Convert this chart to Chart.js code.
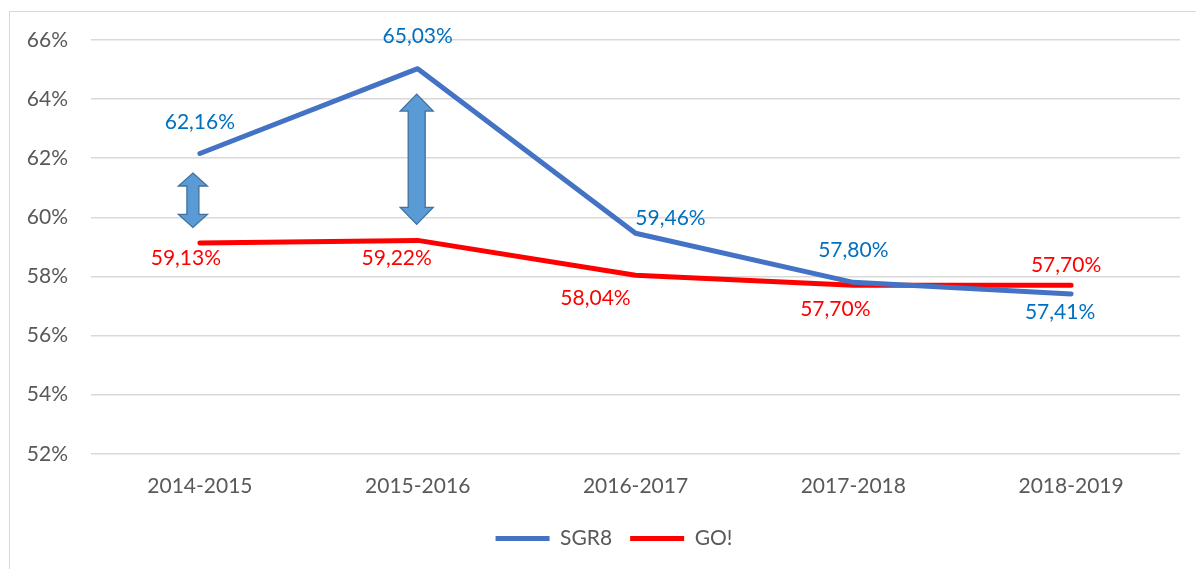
<!DOCTYPE html>
<html><head><meta charset="utf-8">
<script src="https://cdn.jsdelivr.net/npm/chart.js@4.4.1/dist/chart.umd.min.js"></script>
<style>html,body{margin:0;padding:0;background:#fff}#wrap{width:1196px;height:569px;position:relative}canvas{display:block}</style>
</head><body><div id="wrap"><canvas id="c" width="1196" height="569" style="width:1196px;height:569px"></canvas></div>
<script>
const categories = ['2014-2015','2015-2016','2016-2017','2017-2018','2018-2019'];
const sgr8Values = [62.16, 65.03, 59.46, 57.80, 57.41];
const goValues = [59.13, 59.22, 58.04, 57.70, 57.70];
const yTickValues = [52, 54, 56, 58, 60, 62, 64, 66];
const seriesNames = ['SGR8', 'GO!'];
// double-arrow annotations: [category index, top value, bottom value]
const arrowSpans = [[0, 61.5, 59.66], [1, 64.17, 59.76]];

const FONT = 'Lato, "Open Sans", sans-serif';
const FS = 21;

const labelOffsets = [
  [[0,-31],[0,-32],[35,-15],[0,-32],[-11,18]],
  [[-14,15],[-21,18],[-40,23],[-18,24],[-5,-20]]
];
const labelColors = ['#0070C0', '#FF0000'];
const arrowStyle = [
  {dx:-7, head:29, shaft:12, headH:13},
  {dx:-1, head:33, shaft:17, headH:17}
];

const decoPlugin = {
  id: 'deco',
  afterLayout(chart) {
    const lg = chart.legend;
    if (lg) { lg.left += 24; lg.right += 24; lg.top -= 9; lg.bottom -= 9; }
  },
  beforeDraw(chart) {
    const ctx = chart.ctx;
    ctx.save();
    ctx.fillStyle = '#fff';
    ctx.fillRect(0, 0, chart.width, chart.height);
    ctx.strokeStyle = '#D9D9D9';
    ctx.lineWidth = 1;
    ctx.strokeRect(9.5, 11.5, chart.width + 20, chart.height + 20);
    ctx.restore();
  },
  afterDatasetsDraw(chart) {
    const ctx = chart.ctx;
    const xs = chart.scales.x, ys = chart.scales.y;
    arrowSpans.forEach((a, k) => {
      const st = arrowStyle[k];
      const cx = xs.getPixelForValue(a[0]) + st.dx;
      const top = ys.getPixelForValue(a[1]);
      const bot = ys.getPixelForValue(a[2]);
      const hw = st.head / 2, sw = st.shaft / 2, hh = st.headH;
      ctx.save();
      ctx.beginPath();
      ctx.moveTo(cx, top);
      ctx.lineTo(cx + hw, top + hh);
      ctx.lineTo(cx + sw, top + hh);
      ctx.lineTo(cx + sw, bot - hh);
      ctx.lineTo(cx + hw, bot - hh);
      ctx.lineTo(cx, bot);
      ctx.lineTo(cx - hw, bot - hh);
      ctx.lineTo(cx - sw, bot - hh);
      ctx.lineTo(cx - sw, top + hh);
      ctx.lineTo(cx - hw, top + hh);
      ctx.closePath();
      ctx.fillStyle = '#5B9BD5';
      ctx.fill();
      ctx.strokeStyle = '#41719C';
      ctx.lineWidth = 1.3;
      ctx.lineJoin = 'miter';
      ctx.stroke();
      ctx.restore();
    });
    ctx.save();
    ctx.font = FS + 'px ' + FONT;
    ctx.textAlign = 'center';
    ctx.textBaseline = 'middle';
    chart.data.datasets.forEach((ds, di) => {
      const meta = chart.getDatasetMeta(di);
      meta.data.forEach((pt, i) => {
        const v = ds.data[i];
        const txt = v.toFixed(2).replace('.', ',') + '%';
        const off = labelOffsets[di][i];
        ctx.fillStyle = labelColors[di];
        ctx.fillText(txt, pt.x + off[0], pt.y + off[1]);
      });
    });
    ctx.restore();
  }
};

new Chart(document.getElementById('c'), {
  type: 'line',
  data: {
    labels: categories,
    datasets: [
      {label: seriesNames[0], data: sgr8Values, borderColor: '#4472C4', backgroundColor: '#4472C4',
       borderWidth: 5, pointRadius: 0, borderCapStyle: 'round', borderJoinStyle: 'round', tension: 0},
      {label: seriesNames[1], data: goValues, borderColor: '#FF0000', backgroundColor: '#FF0000',
       borderWidth: 5, pointRadius: 0, borderCapStyle: 'round', borderJoinStyle: 'round', tension: 0}
    ]
  },
  options: {
    responsive: false,
    animation: false,
    devicePixelRatio: 1,
    layout: {padding: {top: 40, right: 16, left: 0, bottom: 1}},
    plugins: {
      tooltip: {enabled: false},
      legend: {
        position: 'bottom',
        labels: {
          usePointStyle: true,
          pointStyle: 'line',
          pointStyleWidth: 54,
          boxHeight: FS,
          padding: 18,
          color: '#595959',
          font: {family: FONT, size: FS}
        }
      }
    },
    scales: {
      x: {
        offset: true,
        grid: {display: false, drawTicks: false},
        border: {display: false},
        ticks: {color: '#595959', font: {family: FONT, size: FS}, padding: 20, maxRotation: 0}
      },
      y: {
        min: 52, max: 66,
        afterFit(scale) { scale.width = 91; },
        afterBuildTicks(scale) { scale.ticks = yTickValues.map(v => ({value: v})); },
        grid: {color: '#D9D9D9', lineWidth: 1.5, drawTicks: false},
        border: {display: false},
        ticks: {color: '#595959', font: {family: FONT, size: FS}, padding: 23,
                callback: v => v + '%'}
      }
    }
  },
  plugins: [decoPlugin]
});
</script></body></html>
